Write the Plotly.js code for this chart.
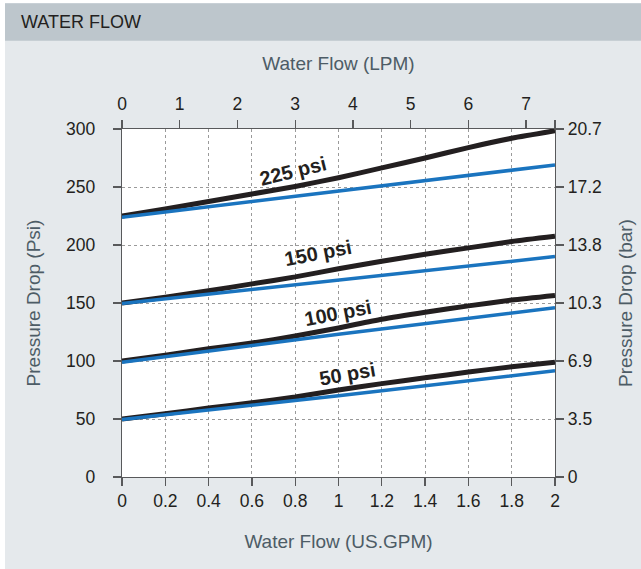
<!DOCTYPE html>
<html>
<head>
<meta charset="utf-8">
<script src="https://cdn.plot.ly/plotly-3.0.1.min.js"></script>
<style>
html,body{margin:0;padding:0;background:#ffffff;}
#chart{width:641px;height:569px;}
</style>
</head>
<body>
<div id="chart"></div>
<script>
// ---- data ----
const gpm = [0, 0.2, 0.4, 0.6, 0.8, 1.0, 1.2, 1.4, 1.6, 1.8, 2.0];
const black225 = [225, 231, 237.5, 244, 250.5, 258, 266.5, 275, 284, 292, 298.5];
const black150 = [150, 155, 160.5, 166.5, 172.5, 179.5, 186, 192, 197.5, 203, 207.5];
const black100 = [100, 105, 110.5, 115.5, 121.5, 128.5, 136, 142, 147.5, 152.5, 156.5];
const black50  = [50, 54.5, 59.5, 64, 69, 75, 80.5, 85.5, 90.5, 95, 99];

const blueGpm = [0, 1, 2];
const blue225 = [224, 246.5, 269];
const blue150 = [149.5, 169.7, 190];
const blue100 = [99, 123, 146];
const blue50  = [49.5, 70, 91.5];

const curveLabels = ['225 psi', '150 psi', '100 psi', '50 psi'];

const gpmTickVals = [0, 0.2, 0.4, 0.6, 0.8, 1, 1.2, 1.4, 1.6, 1.8, 2];
const gpmTickText = ['0', '0.2', '0.4', '0.6', '0.8', '1', '1.2', '1.4', '1.6', '1.8', '2'];
const lpmTickVals = [0, 1, 2, 3, 4, 5, 6, 7, 7.5];
const lpmTickText = ['0', '1', '2', '3', '4', '5', '6', '7', ''];
const psiTickVals = [0, 50, 100, 150, 200, 250, 300];
const psiTickText = ['0', '50', '100', '150', '200', '250', '300'];
const barTickText = ['0', '3.5', '6.9', '10.3', '13.8', '17.2', '20.7'];

// ---- styling / layout ----
const W = 641, H = 569;
const M = {l: 122, r: 86, t: 129, b: 92};
const pw = W - M.l - M.r, ph = H - M.t - M.b;
const px2x = p => (p - M.l) / pw;
const py2y = p => (H - M.b - p) / ph;

const BLACK = '#231f20';
const BLUE = '#1a74bf';
const AXIS = '#58595b';
const TITLE = '#4d5c66';
const FONT = 'Liberation Sans, Arial, sans-serif';

const blackSeries = [black225, black150, black100, black50];
const blueSeries = [blue225, blue150, blue100, blue50];

const traces = [];
blackSeries.forEach((ys, i) => {
  traces.push({x: gpm, y: ys, type: 'scatter', mode: 'lines', name: curveLabels[i] + ' (black)',
    line: {color: BLACK, width: 5, shape: 'spline', smoothing: 0.6}, hoverinfo: 'skip', showlegend: false});
});
blueSeries.forEach((ys, i) => {
  traces.push({x: blueGpm, y: ys, type: 'scatter', mode: 'lines', name: curveLabels[i] + ' (blue)',
    line: {color: BLUE, width: 3.5}, hoverinfo: 'skip', showlegend: false});
});
// empty trace so the secondary (LPM / bar) axes get drawn
traces.push({x: [], y: [], xaxis: 'x2', yaxis: 'y2', type: 'scatter', mode: 'lines',
  hoverinfo: 'skip', showlegend: false});

// label placement (position in data units) and angle
const labelPos = [
  {x: 0.79, y: 264, a: -14},
  {x: 0.905, y: 193.5, a: -11},
  {x: 0.998, y: 141.5, a: -11},
  {x: 1.04, y: 89, a: -10}
];
const annotations = curveLabels.map((t, i) => ({
  text: '<b>' + t + '</b>', x: labelPos[i].x, y: labelPos[i].y, xref: 'x', yref: 'y',
  showarrow: false, textangle: labelPos[i].a,
  font: {family: FONT, size: 20, color: BLACK}
}));
annotations.push({
  text: 'WATER FLOW', xref: 'paper', yref: 'paper', x: px2x(19), y: py2y(22),
  xanchor: 'left', yanchor: 'middle', showarrow: false,
  font: {family: FONT, size: 18, color: BLACK}
});

const shapes = [
  {type: 'rect', xref: 'paper', yref: 'paper', x0: px2x(0), x1: px2x(5), y0: py2y(H), y1: py2y(0),
   fillcolor: '#ffffff', line: {width: 0}, layer: 'below'},
  {type: 'rect', xref: 'paper', yref: 'paper', x0: px2x(0), x1: px2x(W), y0: py2y(3.3), y1: py2y(0),
   fillcolor: '#ffffff', line: {width: 0}, layer: 'below'},
  {type: 'rect', xref: 'paper', yref: 'paper', x0: px2x(5), x1: px2x(W), y0: py2y(40.7), y1: py2y(3.3),
   fillcolor: '#bdc6cc', line: {width: 0}, layer: 'below'}
];

const tickFont = {family: FONT, size: 17.5, color: BLACK};
const titleFont = {family: FONT, size: 19, color: TITLE};

const layout = {
  width: W, height: H,
  margin: M,
  paper_bgcolor: '#e5e9ec',
  plot_bgcolor: '#ffffff',
  showlegend: false,
  xaxis: {
    range: [0, 2], tickvals: gpmTickVals, ticktext: gpmTickText,
    showline: true, linecolor: AXIS, linewidth: 1.3,
    ticks: 'outside', ticklen: 8, tickcolor: AXIS, tickwidth: 1.3,
    showgrid: true, gridcolor: '#9a9a9a', griddash: '3px,3px', gridwidth: 1,
    zeroline: false, tickfont: tickFont,
    title: {text: 'Water Flow (US.GPM)', font: titleFont, standoff: 24}
  },
  xaxis2: {
    overlaying: 'x', side: 'top', anchor: 'y', range: [0, 7.5],
    tickvals: lpmTickVals, ticktext: lpmTickText,
    showline: true, linecolor: AXIS, linewidth: 1.3,
    ticks: 'outside', ticklen: 8, tickcolor: AXIS, tickwidth: 1.3,
    showgrid: false, zeroline: false, tickfont: tickFont, ticklabelstandoff: 3,
    title: {text: 'Water Flow (LPM)', font: titleFont, standoff: 18}
  },
  yaxis: {
    range: [0, 300], tickvals: psiTickVals, ticktext: psiTickText,
    showline: true, linecolor: AXIS, linewidth: 1.3,
    ticks: 'outside', ticklen: 8, tickcolor: AXIS, tickwidth: 1.3,
    showgrid: true, gridcolor: '#9a9a9a', griddash: '3px,3px', gridwidth: 1,
    zeroline: false, tickfont: tickFont, ticklabelstandoff: 14,
    title: {text: 'Pressure Drop (Psi)', font: titleFont, standoff: 20}
  },
  yaxis2: {
    overlaying: 'y', side: 'right', anchor: 'x', range: [0, 300],
    tickvals: psiTickVals, ticktext: barTickText,
    showline: true, linecolor: AXIS, linewidth: 1.3,
    ticks: 'outside', ticklen: 8, tickcolor: AXIS, tickwidth: 1.3,
    showgrid: false, zeroline: false, tickfont: tickFont,
    title: {text: 'Pressure Drop (bar)', font: titleFont, standoff: 17}
  },
  annotations: annotations,
  shapes: shapes
};

Plotly.newPlot('chart', traces, layout, {displayModeBar: false, staticPlot: true});
</script>
</body>
</html>
